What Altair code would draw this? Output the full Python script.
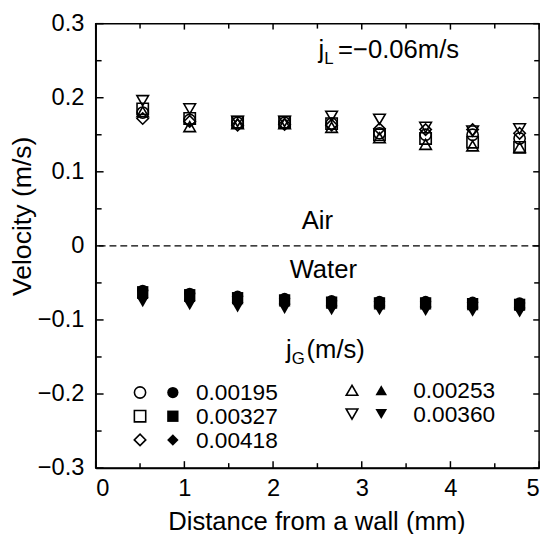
import altair as alt
import pandas as pd

# ---------------- data ----------------
distance = [0.53, 1.06, 1.6, 2.13, 2.66, 3.2, 3.72, 4.25, 4.78]
jg_labels = ["0.00195", "0.00327", "0.00418", "0.00253", "0.00360"]
shapes = ["circle", "square", "diamond", "triangle-up", "triangle-down"]

air_00195 = [0.180, 0.170, 0.166, 0.166, 0.165, 0.152, 0.150, 0.150, 0.145]
air_00327 = [0.185, 0.172, 0.167, 0.167, 0.165, 0.150, 0.145, 0.140, 0.133]
air_00418 = [0.172, 0.168, 0.163, 0.164, 0.163, 0.158, 0.157, 0.157, 0.152]
air_00253 = [0.181, 0.161, 0.165, 0.165, 0.160, 0.146, 0.137, 0.135, 0.133]
air_00360 = [0.196, 0.185, 0.168, 0.168, 0.175, 0.171, 0.160, 0.155, 0.158]

water_00195 = [-0.060, -0.064, -0.068, -0.071, -0.074, -0.075, -0.075, -0.076, -0.077]
water_00327 = [-0.062, -0.066, -0.070, -0.073, -0.076, -0.077, -0.077, -0.078, -0.079]
water_00418 = [-0.070, -0.074, -0.077, -0.079, -0.082, -0.082, -0.083, -0.084, -0.085]
water_00253 = [-0.065, -0.069, -0.072, -0.075, -0.078, -0.079, -0.079, -0.080, -0.081]
water_00360 = [-0.076, -0.080, -0.083, -0.085, -0.087, -0.087, -0.088, -0.089, -0.090]

y_major = [-0.3, -0.2, -0.1, 0.0, 0.1, 0.2, 0.3]
y_minor = [-0.25, -0.15, -0.05, 0.05, 0.15, 0.25]
x_major = [0, 1, 2, 3, 4, 5]
x_minor = [0.5, 1.5, 2.5, 3.5, 4.5]

# ---------------- tables ----------------
air_series = [air_00195, air_00327, air_00418, air_00253, air_00360]
water_series = [water_00195, water_00327, water_00418, water_00253, water_00360]

def long_table(series_list):
    rows = []
    for lab, vals in zip(jg_labels, series_list):
        for d, v in zip(distance, vals):
            rows.append({"distance": d, "velocity": v, "jG": lab})
    return pd.DataFrame(rows)

df_air = long_table(air_series)
df_water = long_table(water_series)

# legend layout (in data units)
leg_open_x = [0.50, 0.50, 0.50, 2.89, 2.89]
leg_fill_x = [0.87, 0.87, 0.87, 3.22, 3.22]
leg_text_x = [1.13, 1.13, 1.13, 3.58, 3.58]
leg_y = [-0.198, -0.230, -0.262, -0.195, -0.227]
df_leg = pd.DataFrame({
    "jG": jg_labels, "distance": leg_open_x, "xf": leg_fill_x, "xt": leg_text_x, "velocity": leg_y
})

W, H = 450, 451
FONT = "Liberation Sans"
FS = 26

xscale = alt.Scale(domain=[0, 5], nice=False, zero=False)
yscale = alt.Scale(domain=[-0.3, 0.3], nice=False, zero=False)

x_axis = alt.Axis(values=x_major, ticks=False, grid=False, labelPadding=9,
                  labelFontSize=24, labelFont=FONT, labelColor="black",
                  title="Distance from a wall (mm)", titleFontSize=26, titleFont=FONT,
                  titleFontWeight="normal", titleColor="black", titleX=W / 2 - 1,
                  titleY=62, titleBaseline="alphabetic",
                  domainColor="black", domainWidth=1.5)
y_axis = alt.Axis(values=y_major, ticks=False, grid=False, labelPadding=12,
                  labelExpr="datum.value == 0 ? '0' : format(datum.value, '.1f')",
                  labelFontSize=24, labelFont=FONT, labelColor="black",
                  title="Velocity (m/s)", titleFontSize=27, titleFont=FONT,
                  titleFontWeight="normal", titleColor="black",
                  titleX=-74, titleY=195, titleAngle=270, titleAlign="center",
                  titleBaseline="middle",
                  domainColor="black", domainWidth=1.5)

def X(field):
    return alt.X(field, type="quantitative", scale=xscale, axis=x_axis)

def Y(field):
    return alt.Y(field, type="quantitative", scale=yscale, axis=y_axis)

shape_enc = alt.Shape("jG:N", scale=alt.Scale(domain=jg_labels, range=shapes), legend=None)
size_enc = alt.Size("jG:N", scale=alt.Scale(domain=jg_labels, range=[130, 140, 280, 180, 180]), legend=None)

air = alt.Chart(df_air).mark_point(filled=False, color="black", strokeWidth=1.6, opacity=1).encode(
    x=X("distance"), y=Y("velocity"), shape=shape_enc, size=size_enc,
)
water = alt.Chart(df_water).mark_point(filled=True, color="black", opacity=1).encode(
    x=X("distance"), y=Y("velocity"), shape=shape_enc, size=size_enc,
)

zero_line = alt.Chart(pd.DataFrame({"velocity": [0.0]})).mark_rule(
    color="black", strokeWidth=1.5, strokeDash=[7, 4]).encode(y=Y("velocity"))

def ytick_layer(vals, x0, x1):
    return alt.Chart(pd.DataFrame({"velocity": vals})).mark_rule(color="black", strokeWidth=1.5).encode(
        y=Y("velocity"), x=alt.value(x0), x2=alt.value(x1))

def xtick_layer(vals, y0, y1):
    return alt.Chart(pd.DataFrame({"distance": vals})).mark_rule(color="black", strokeWidth=1.5).encode(
        x=X("distance"), y=alt.value(y0), y2=alt.value(y1))

ticks = [
    ytick_layer(y_major, 0, 8), ytick_layer(y_minor, 0, 6),
    ytick_layer(y_major, W, W - 6), ytick_layer(y_minor, W, W - 5),
    xtick_layer(x_major, H, H - 7), xtick_layer(x_minor, H, H - 5),
    xtick_layer(x_major, 0, 6), xtick_layer(x_minor, 0, 5),
]

leg_open = alt.Chart(df_leg).mark_point(filled=False, color="black", strokeWidth=1.6, opacity=1).encode(
    x=X("distance"), y=Y("velocity"), shape=shape_enc, size=size_enc)
leg_fill = alt.Chart(df_leg).mark_point(filled=True, color="black", opacity=1).encode(
    x=X("xf"), y=Y("velocity"), shape=shape_enc, size=size_enc)
leg_text = alt.Chart(df_leg).mark_text(align="left", baseline="middle", font=FONT, fontSize=23,
                                       color="black", dy=1).encode(
    x=X("xt"), y=Y("velocity"), text="jG:N")

def label(txt, x, y, size=FS, align="left"):
    return alt.Chart(pd.DataFrame({"t": [txt]})).mark_text(
        align=align, baseline="alphabetic", font=FONT, fontSize=size, color="black").encode(
        x=alt.value(x), y=alt.value(y), text="t:N")

annots = [
    label("j", 226, 35), label("L", 232, 41, size=17), label("=\u22120.06m/s", 246, 35),
    label("Air", 225, 208, align="center"),
    label("Water", 231, 258, align="center"),
    label("j", 193, 339), label("G", 199, 345, size=17), label("(m/s)", 214, 339),
]

chart = alt.layer(air, water, zero_line, *ticks, leg_open, leg_fill, leg_text, *annots).properties(
    width=W, height=H,
    autosize=alt.AutoSizeParams(type="none"),
    padding={"left": 89, "top": 12, "right": 8, "bottom": 63},
).configure_view(stroke="black", strokeWidth=1.5)

chart.save("out.html", embed_options={"renderer": "svg", "actions": False})
